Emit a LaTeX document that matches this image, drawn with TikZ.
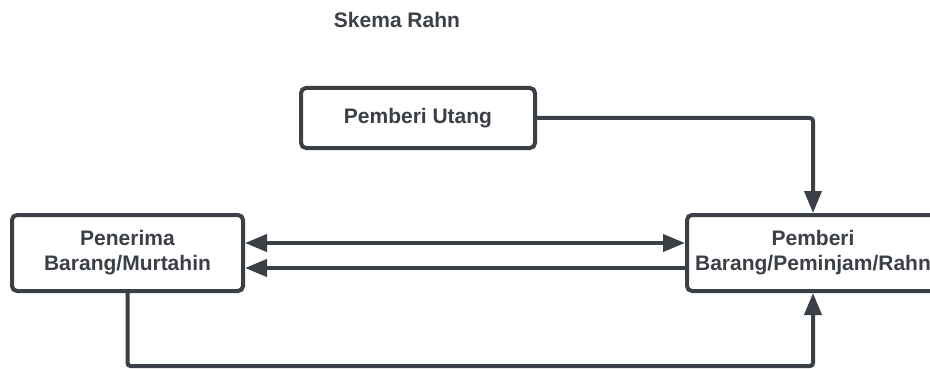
\documentclass[tikz,border=0pt]{standalone}
\usepackage{fontspec}
\setmainfont{Liberation Sans}
\usetikzlibrary{arrows.meta}
\definecolor{ink}{RGB}{59,63,70}
\begin{document}
\begin{tikzpicture}[x=1pt,y=-1pt,
  box/.style={draw=ink,line width=4pt,rounded corners=5pt,fill=white,align=center,
    text=ink,font=\fontsize{21}{25}\selectfont\bfseries,inner sep=0pt},
  conn/.style={draw=ink,line width=4pt},
  arr/.style={conn,-{Triangle[length=22pt,width=17pt]}},
  arrb/.style={conn,{Triangle[length=22pt,width=17pt]}-{Triangle[length=22pt,width=17pt]}}]
\useasboundingbox (0,0) rectangle (930,369);
\node[text=ink,font=\fontsize{21}{25}\selectfont\bfseries] (title) at (397,20) {Skema Rahn};
\node[box,minimum width=234pt,minimum height=60pt] (utang) at (418,118) {Pemberi Utang};
\node[box,minimum width=231pt,minimum height=76pt] (penerima) at (127.5,253) {Penerima\\Barang/Murtahin};
\node[box,minimum width=252pt,minimum height=76pt] (pemberi) at (813,253) {Pemberi\\Barang/Peminjam/Rahn};
\coordinate (bot) at (0,366);
\draw[arr,rounded corners=3pt] (utang.east) -| (pemberi.north);
\draw[arrb] ([yshift=10pt]penerima.east) -- ([yshift=10pt]pemberi.west);
\draw[arr] ([yshift=-15pt]pemberi.west) -- ([yshift=-15pt]penerima.east);
\draw[arr,rounded corners=3pt] (penerima.south) -- (penerima.south |- bot) -| (pemberi.south);
\end{tikzpicture}
\end{document}
